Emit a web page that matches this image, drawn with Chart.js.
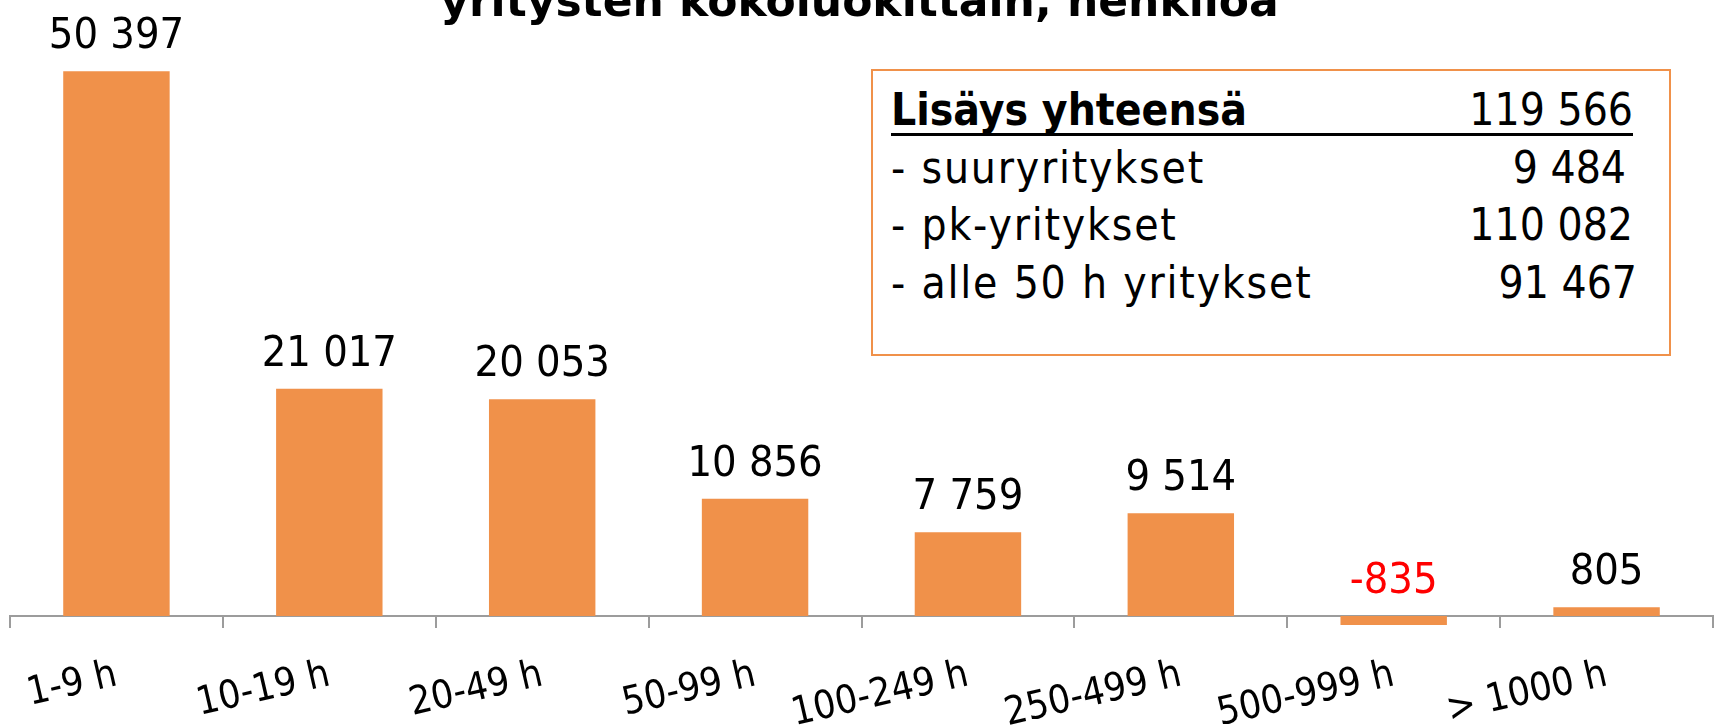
<!DOCTYPE html>
<html lang="fi">
<head>
<meta charset="utf-8">
<title>Henkilöstön lisäys yritysten kokoluokittain</title>
<script src="https://cdn.jsdelivr.net/npm/chart.js@4.4.1/dist/chart.umd.min.js"></script>
<style>
  html, body { margin:0; padding:0; background:#fff; overflow:hidden; }
  #wrap { position:relative; width:1719px; height:728px; overflow:hidden;
          font-family:'DejaVu Sans Condensed','DejaVu Sans',sans-serif; color:#000; }
  #chart-box { position:absolute; left:0; top:0; width:1719px; height:728px; }
  #otsikko { position:absolute; left:0; top:-21px; width:1719px; text-align:center;
             font-family:'DejaVu Sans',sans-serif; font-weight:bold; font-size:44px;
             line-height:44px; white-space:nowrap; }
  #laatikko { position:absolute; left:871px; top:69px; width:796px; height:283px;
              border:2px solid #F0914A; background:#fff; }
  .rivi { position:absolute; left:18px; width:742px; height:57.5px; display:flex;
          justify-content:space-between; font-size:44px; line-height:57.5px; white-space:pre; }
  .rivi .nimi { letter-spacing:1.8px; }
  .rivi.eka { height:52px; border-bottom:3px solid #000; }
  .rivi.eka .nimi { font-weight:bold; letter-spacing:0; }
  .rivi:nth-child(2) .arvo { margin-right:7px; }
  .rivi:nth-child(4) .arvo { margin-right:-4px; }
</style>
</head>
<body>
<div id="wrap">
  <div id="chart-box"><canvas id="kaavio"></canvas></div>
  <div id="otsikko"></div>
  <div id="laatikko"></div>
</div>
<script>
'use strict';

/* ── DATA ── */
var OTSIKKO = 'yritysten kokoluokittain, henkilöä';
var LUOKAT  = ['1-9 h', '10-19 h', '20-49 h', '50-99 h', '100-249 h', '250-499 h', '500-999 h', '> 1000 h'];
var LISAYS  = [50397, 21017, 20053, 10856, 7759, 9514, -835, 805];
var YHT_NIMET = ['Lisäys yhteensä', '- suuryritykset', '- pk-yritykset', '- alle 50 h yritykset'];
var YHT_ARVOT = [119566, 9484, 110082, 91467];

var FONTTI = '"DejaVu Sans Condensed", "DejaVu Sans", sans-serif';
var ORANSSI = '#F0914A';
var HARMAA  = '#9C9C9C';

function muotoile(v){
  return String(v).replace(/\B(?=(\d{3})+(?!\d))/g, ' ');
}

/* ── OTSIKKO + YHTEENVETOLAATIKKO ── */
document.getElementById('otsikko').textContent = OTSIKKO;

var laatikko = document.getElementById('laatikko');
YHT_NIMET.forEach(function(nimi, i){
  var rivi = document.createElement('div');
  rivi.className = 'rivi' + (i === 0 ? ' eka' : '');
  rivi.style.top = (10 + i * 57.5) + 'px';
  var a = document.createElement('span');
  a.className = 'nimi';
  a.textContent = nimi;
  var b = document.createElement('span');
  b.className = 'arvo';
  b.textContent = muotoile(YHT_ARVOT[i]);
  rivi.appendChild(a);
  rivi.appendChild(b);
  laatikko.appendChild(rivi);
});

/* ── ARVOT PYLVÄIDEN PÄÄLLE ── */
var arvoPlugin = {
  id: 'arvot',
  afterDatasetsDraw: function(chart){
    var ctx  = chart.ctx;
    var meta = chart.getDatasetMeta(0);
    ctx.save();
    ctx.font = '43px ' + FONTTI;
    ctx.textAlign = 'center';
    ctx.textBaseline = 'alphabetic';
    meta.data.forEach(function(bar, i){
      var v = LISAYS[i];
      var y = Math.min(bar.y, bar.base) - 23;
      ctx.fillStyle = v < 0 ? '#FF0000' : '#000000';
      ctx.fillText(muotoile(v), bar.x, y);
    });
    ctx.restore();
  }
};

/* ── KAAVIO ── */
new Chart(document.getElementById('kaavio'), {
  type: 'bar',
  data: {
    labels: LUOKAT,
    datasets: [{
      data: LISAYS,
      backgroundColor: ORANSSI,
      borderWidth: 0,
      barPercentage: 0.5,
      categoryPercentage: 1.0,
      clip: false
    }]
  },
  options: {
    responsive: true,
    maintainAspectRatio: false,
    animation: false,
    layout: { padding: { left: 10, right: 6, top: 0, bottom: 0 } },
    plugins: {
      legend: { display: false },
      tooltip: { enabled: false }
    },
    scales: {
      x: {
        grid: { display: true, drawOnChartArea: false, drawTicks: true, tickLength: 12,
                color: HARMAA, lineWidth: 2, offset: true },
        border: { display: true, color: HARMAA, width: 2 },
        ticks: { color: '#000', font: { family: FONTTI, size: 39 },
                 minRotation: 13, maxRotation: 13, padding: 24, autoSkip: false },
        afterFit: function(s){ s.height = 112; }
      },
      y: { display: false, min: 0, max: 57000 }
    }
  },
  plugins: [arvoPlugin]
});
</script>
</body>
</html>
